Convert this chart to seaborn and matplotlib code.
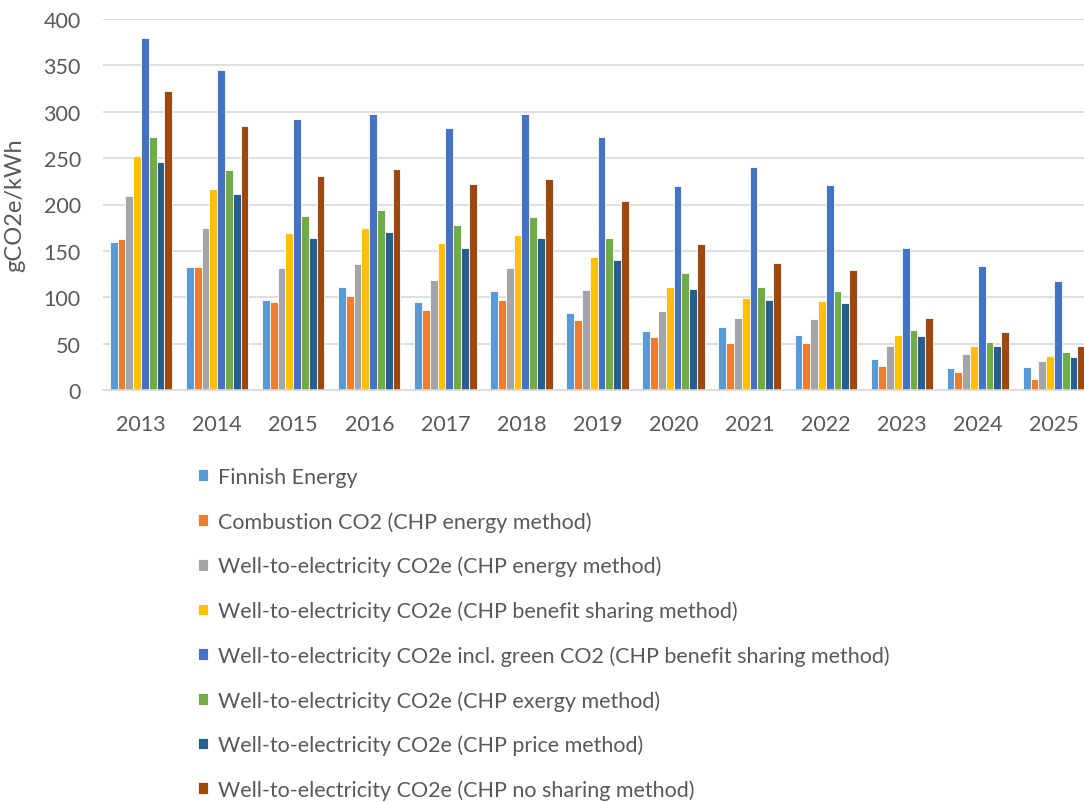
import seaborn as sns
import numpy as np
import pandas as pd
import matplotlib.pyplot as plt

years = ['2013', '2014', '2015', '2016', '2017', '2018', '2019',
         '2020', '2021', '2022', '2023', '2024', '2025']

series_names = [
    'Finnish Energy',
    'Combustion CO2 (CHP energy method)',
    'Well-to-electricity CO2e (CHP energy method)',
    'Well-to-electricity CO2e (CHP benefit sharing method)',
    'Well-to-electricity CO2e incl. green CO2 (CHP benefit sharing method)',
    'Well-to-electricity CO2e (CHP exergy method)',
    'Well-to-electricity CO2e (CHP price method)',
    'Well-to-electricity CO2e (CHP no sharing method)',
]

finnish_energy = [160, 133, 97, 111, 95, 107, 83, 64, 68, 59, 33, 24, 25]
combustion = [163, 133, 95, 101, 86, 97, 76, 57, 51, 51, 26, 19, 12]
wte_energy = [209, 175, 131, 136, 119, 132, 108, 85, 78, 77, 47, 39, 31]
wte_benefit = [252, 217, 169, 175, 158, 167, 143, 111, 99, 96, 59, 47, 37]
wte_green = [379, 345, 292, 298, 283, 298, 273, 220, 240, 221, 153, 134, 117]
wte_exergy = [273, 237, 188, 194, 178, 187, 164, 126, 111, 107, 65, 52, 41]
wte_price = [246, 211, 164, 170, 153, 164, 140, 109, 97, 94, 58, 47, 36]
wte_nosharing = [322, 285, 231, 238, 222, 227, 204, 157, 137, 129, 78, 62, 47]

colors = ['#5B9BD5', '#ED7D31', '#A5A5A5', '#FFC000',
          '#4472C4', '#70AD47', '#255E91', '#9E480E']

all_series = [finnish_energy, combustion, wte_energy, wte_benefit,
              wte_green, wte_exergy, wte_price, wte_nosharing]

rows = []
for name, vals in zip(series_names, all_series):
    for y, v in zip(years, vals):
        rows.append({'year': y, 'value': v, 'series': name})
df = pd.DataFrame(rows)

sns.set_style('white')
plt.rcParams['font.family'] = ['Lato', 'DejaVu Sans']

fig = plt.figure(figsize=(10.84, 8.03), dpi=100)
ax = fig.add_axes([103 / 1084, 1 - 391 / 803, (1092 - 103) / 1084, (391 - 20) / 803])

sns.barplot(data=df, x='year', y='value', hue='series', hue_order=series_names,
            palette=colors, saturation=1, width=0.82, edgecolor='white',
            linewidth=0.6, ax=ax)

ax.set_ylim(0, 400)
ax.set_yticks(np.arange(0, 401, 50))
ax.grid(axis='y', color='#D9D9D9', linewidth=1.2)
ax.set_axisbelow(True)
for s in ['top', 'right', 'left']:
    ax.spines[s].set_visible(False)
ax.spines['bottom'].set_color('#D9D9D9')
ax.spines['bottom'].set_linewidth(1.2)
ax.tick_params(axis='x', length=0, labelsize=15.5, colors='#595959', pad=17)
ax.tick_params(axis='y', length=0, labelsize=15.5, colors='#595959', pad=16)
ax.set_xlabel('')
ax.set_ylabel('gCO2e/kWh', fontsize=17, color='#595959', labelpad=13)

handles, labels = ax.get_legend_handles_labels()
ax.get_legend().remove()
fig.legend(handles, labels, loc='upper left', bbox_to_anchor=(198 / 1084, 1 - 468 / 803),
           frameon=False, fontsize=15.5, labelcolor='#595959',
           borderaxespad=0, borderpad=0,
           handlelength=0.47, handleheight=0.47, handletextpad=0.46,
           labelspacing=1.12)

fig.savefig('out.png', dpi=100)
